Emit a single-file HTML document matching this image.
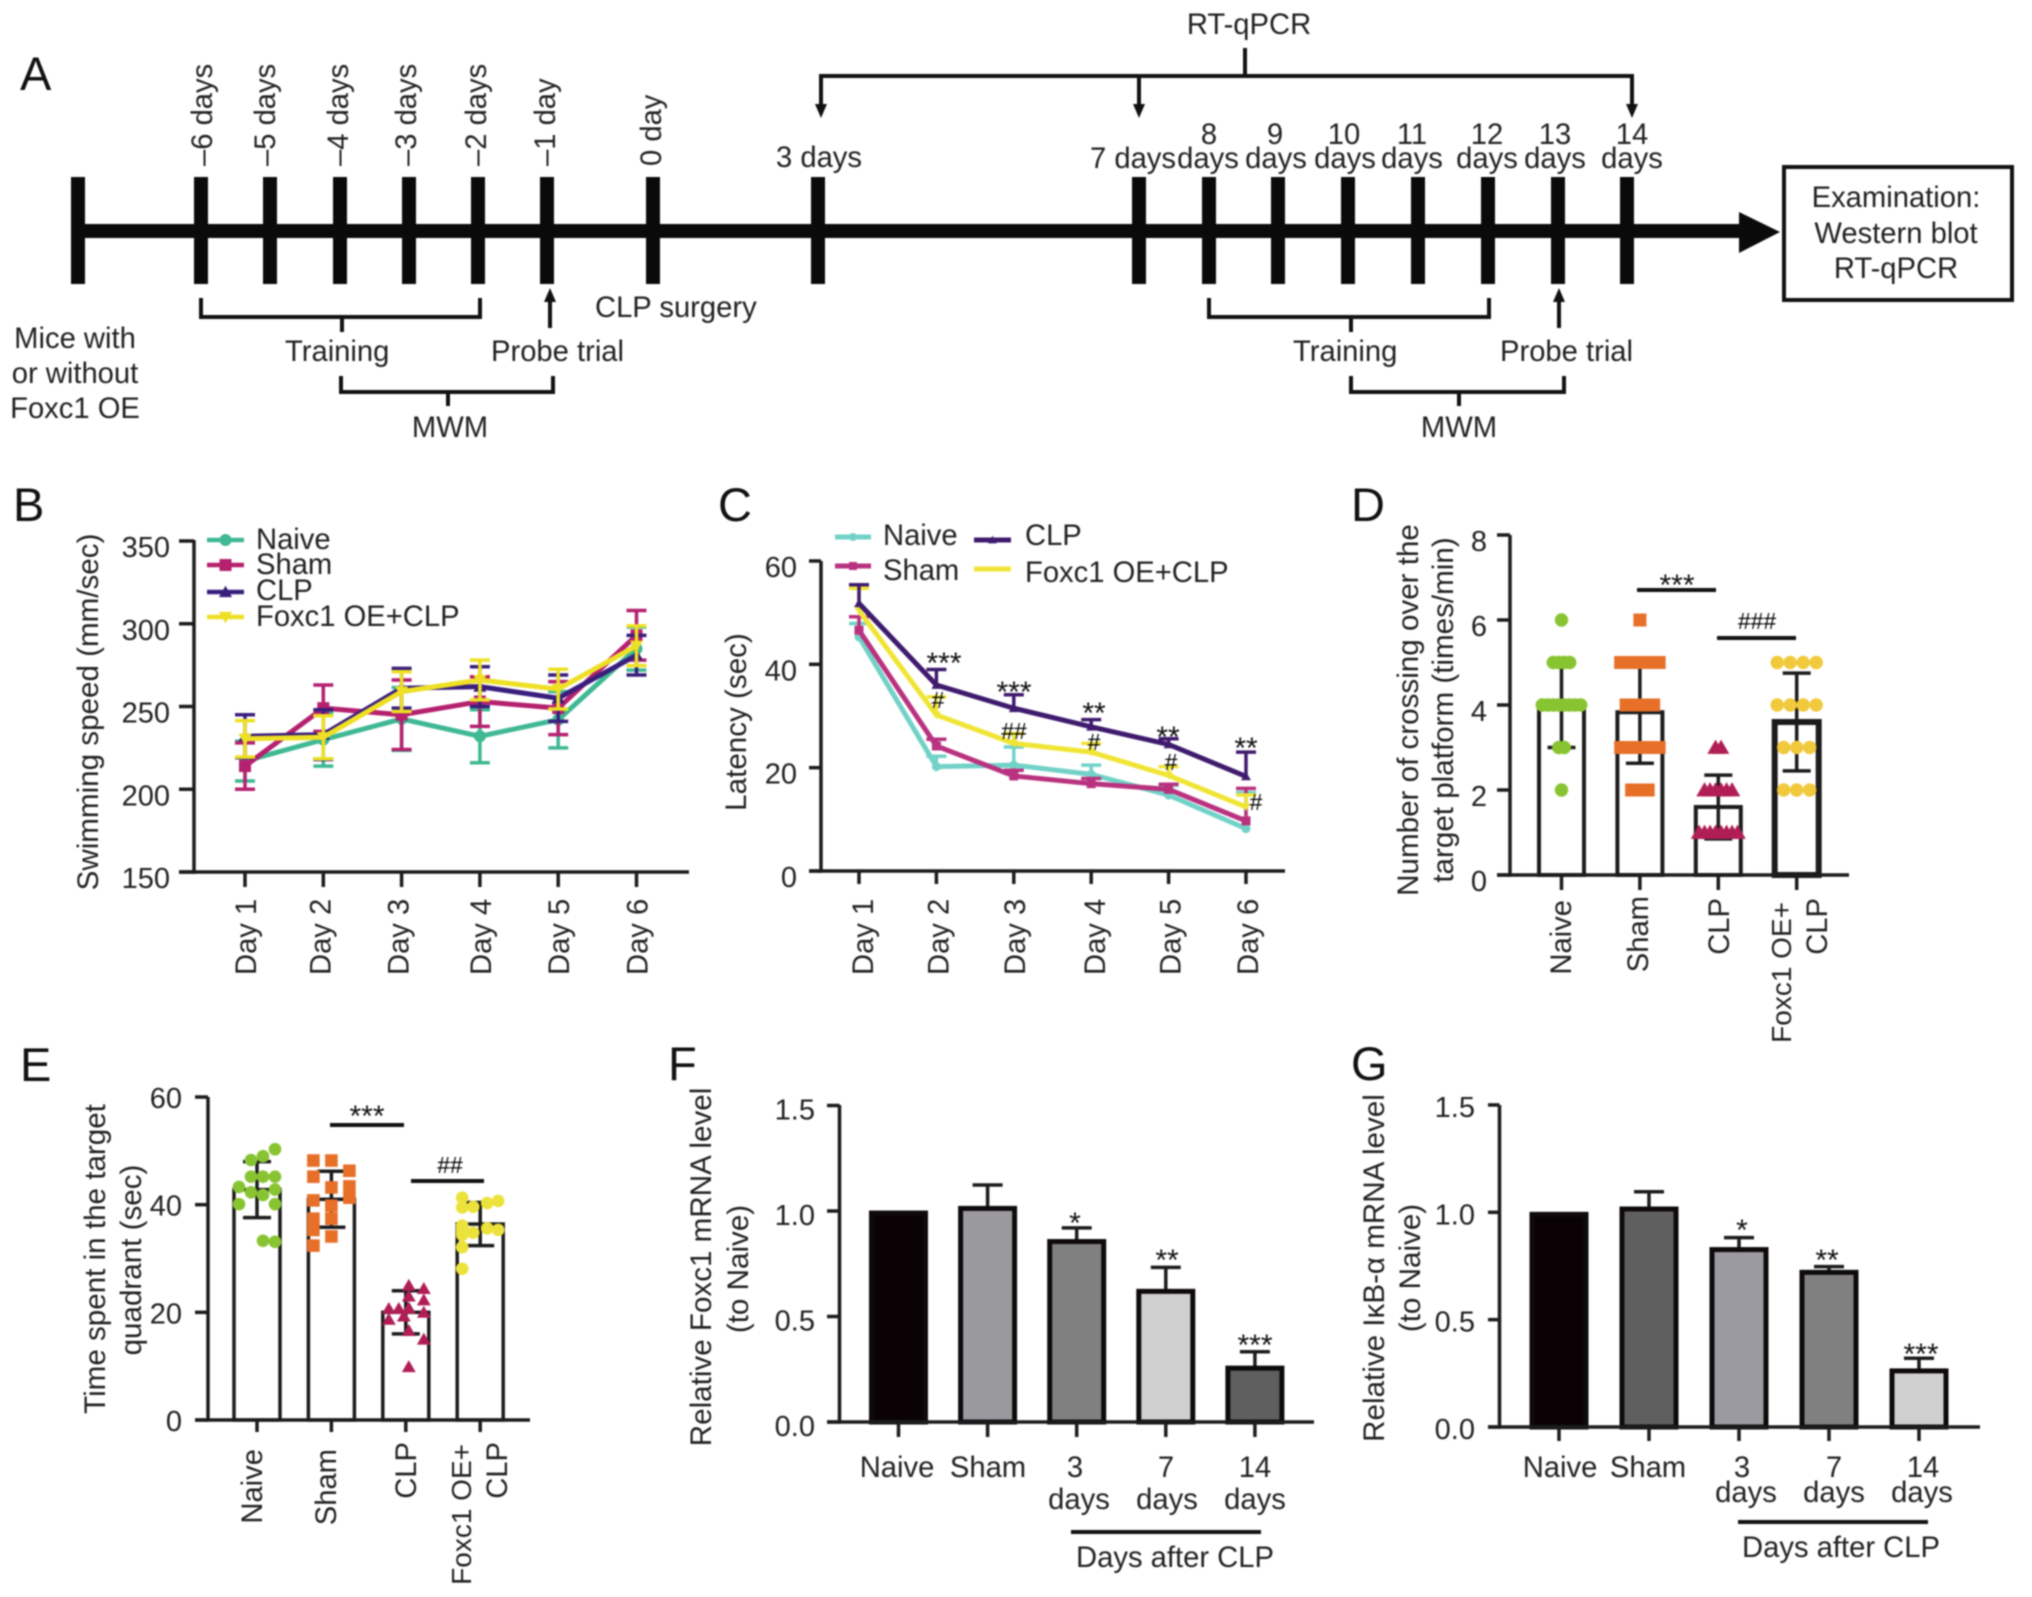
<!DOCTYPE html>
<html lang="en">
<head>
<meta charset="utf-8">
<title>Foxc1 OE and CLP experiment figure</title>
<style>
html,body{margin:0;padding:0;background:#fff;width:2032px;height:1597px;overflow:hidden}
#figure{display:block;filter:blur(0.8px)}
text{font-family:"Liberation Sans","DejaVu Sans",sans-serif;fill:#222;font-size:29.2px}
.letter{font-size:47px;fill:#111}
.title{font-size:29.6px}
.long{font-size:28px}
.mid{text-anchor:middle}
.end{text-anchor:end}
.star{font-size:30px;text-anchor:middle;fill:#111}
.hash{font-size:23px;text-anchor:middle;fill:#000}
.ln{stroke:#111;fill:none;stroke-width:4}
</style>
</head>
<body>
<svg id="figure" xmlns="http://www.w3.org/2000/svg" width="2032" height="1597" viewBox="0 0 2032 1597">
<rect x="0" y="0" width="2032" height="1597" fill="#fff"/>

<!-- Panel A timeline -->
<g id="panel-a">
<text class="letter" x="20" y="90">A</text>
<rect x="78" y="224" width="1665" height="14" fill="#0a0a0a"/>
<polygon points="1739,212 1780,232 1739,253" fill="#0a0a0a"/>
<g fill="#0a0a0a">
<rect x="71" y="177" width="14" height="107"/>
<rect x="194" y="177" width="14" height="107"/>
<rect x="263" y="177" width="14" height="107"/>
<rect x="333" y="177" width="14" height="107"/>
<rect x="402" y="177" width="14" height="107"/>
<rect x="471" y="177" width="14" height="107"/>
<rect x="540" y="177" width="14" height="107"/>
<rect x="646" y="177" width="14" height="107"/>
<rect x="811" y="177" width="14" height="107"/>
<rect x="1132" y="177" width="14" height="107"/>
<rect x="1202" y="177" width="14" height="107"/>
<rect x="1271" y="177" width="14" height="107"/>
<rect x="1341" y="177" width="14" height="107"/>
<rect x="1411" y="177" width="14" height="107"/>
<rect x="1481" y="177" width="14" height="107"/>
<rect x="1551" y="177" width="14" height="107"/>
<rect x="1620" y="177" width="14" height="107"/>
</g>
<text transform="translate(212,166) rotate(-90)">–6 days</text>
<text transform="translate(275,166) rotate(-90)">–5 days</text>
<text transform="translate(348,166) rotate(-90)">–4 days</text>
<text transform="translate(416,166) rotate(-90)">–3 days</text>
<text transform="translate(486,166) rotate(-90)">–2 days</text>
<text transform="translate(555,166) rotate(-90)">–1 day</text>
<text transform="translate(661,166) rotate(-90)">0 day</text>
<text class="mid" x="819" y="167">3 days</text>
<text class="mid" x="1133" y="168">7 days</text>
<text class="mid" x="1209" y="144">8</text>
<text class="mid" x="1208" y="168">days</text>
<text class="mid" x="1275" y="144">9</text>
<text class="mid" x="1276" y="168">days</text>
<text class="mid" x="1344" y="144">10</text>
<text class="mid" x="1345" y="168">days</text>
<text class="mid" x="1412" y="144">11</text>
<text class="mid" x="1412" y="168">days</text>
<text class="mid" x="1487" y="144">12</text>
<text class="mid" x="1487" y="168">days</text>
<text class="mid" x="1555" y="144">13</text>
<text class="mid" x="1555" y="168">days</text>
<text class="mid" x="1632" y="144">14</text>
<text class="mid" x="1632" y="168">days</text>

<text class="mid" x="1249" y="34">RT-qPCR</text>
<path class="ln" d="M1245 48V76M821 108V76H1632V108M1139 76V108"/>
<polygon points="815,104 827,104 821,118" fill="#111"/>
<polygon points="1133,104 1145,104 1139,118" fill="#111"/>
<polygon points="1626,104 1638,104 1632,118" fill="#111"/>

<path class="ln" d="M201 298V317H480V298M342 317V332"/>
<path class="ln" d="M341 376V392H553V376M448 392V406"/>
<path class="ln" d="M550 328V298"/>
<polygon points="544,302 556,302 550,288" fill="#111"/>
<text x="595" y="317">CLP surgery</text>
<text x="285" y="361">Training</text>
<text x="491" y="361">Probe trial</text>
<text class="mid" x="450" y="437">MWM</text>
<text class="mid" x="75" y="348">Mice with</text>
<text class="mid" x="75" y="383">or without</text>
<text class="mid" x="75" y="418">Foxc1 OE</text>

<path class="ln" d="M1209 298V317H1489V298M1351 317V332"/>
<path class="ln" d="M1351 376V392H1564V376M1459 392V406"/>
<path class="ln" d="M1559 328V298"/>
<polygon points="1553,302 1565,302 1559,288" fill="#111"/>
<text x="1293" y="361">Training</text>
<text x="1500" y="361">Probe trial</text>
<text class="mid" x="1459" y="437">MWM</text>

<rect x="1784" y="167" width="228" height="133" fill="#fff" stroke="#111" stroke-width="4"/>
<text class="mid" x="1896" y="207">Examination:</text>
<text class="mid" x="1896" y="243">Western blot</text>
<text class="mid" x="1896" y="278">RT-qPCR</text>
</g>

<g id="charts"></g>

<!-- Panel letters -->
<text class="letter" x="13" y="521">B</text>
<text class="letter" x="718" y="521">C</text>
<text class="letter" x="1351" y="521">D</text>
<text class="letter" x="20" y="1081">E</text>
<text class="letter" x="668" y="1080">F</text>
<text class="letter" x="1351" y="1080">G</text>

<!-- Axis titles -->
<text class="mid title" transform="translate(98,712) rotate(-90)">Swimming speed (mm/sec)</text>
<text class="mid title" transform="translate(746,722) rotate(-90)">Latency (sec)</text>
<text class="mid title" transform="translate(1418,710) rotate(-90)">Number of crossing over the</text>
<text class="mid title" transform="translate(1453,710) rotate(-90)">target platform (times/min)</text>
<text class="mid title" transform="translate(105,1259) rotate(-90)">Time spent in the target</text>
<text class="mid title" transform="translate(141,1260) rotate(-90)">quadrant (sec)</text>
<text class="mid title" transform="translate(711,1267) rotate(-90)">Relative Foxc1 mRNA level</text>
<text class="mid title" transform="translate(748,1269) rotate(-90)">(to Naive)</text>
<text class="mid title" transform="translate(1384,1268) rotate(-90)">Relative IκB-α mRNA level</text>
<text class="mid title" transform="translate(1420,1268) rotate(-90)">(to Naive)</text>

<!-- Legends text -->
<text x="256" y="549">Naive</text>
<text x="256" y="574">Sham</text>
<text x="256" y="600">CLP</text>
<text x="256" y="626">Foxc1 OE+CLP</text>
<text x="883" y="545">Naive</text>
<text x="883" y="580">Sham</text>
<text x="1025" y="545">CLP</text>
<text x="1025" y="582">Foxc1 OE+CLP</text>

<!-- Panel C annotations -->
<text class="star" x="944" y="673">***</text>
<text class="hash" x="938" y="708">#</text>
<text class="star" x="1014" y="702">***</text>
<text class="hash" x="1014" y="739">##</text>
<text class="star" x="1094" y="723">**</text>
<text class="hash" x="1094" y="750">#</text>
<text class="star" x="1168" y="747">**</text>
<text class="hash" x="1171" y="770">#</text>
<text class="star" x="1246" y="758">**</text>
<text class="hash" x="1256" y="810">#</text>

<!-- Panel D annotations and labels -->
<path class="ln" d="M1637 590H1716"/>
<text class="star" x="1677" y="595">***</text>
<path class="ln" d="M1717 638H1796"/>
<text class="hash" x="1757" y="629">###</text>
<text class="end" transform="translate(1571,900) rotate(-90)">Naive</text>
<text class="end" transform="translate(1648,896) rotate(-90)">Sham</text>
<text class="end" transform="translate(1729,898) rotate(-90)">CLP</text>
<text class="end long" transform="translate(1791,902) rotate(-90)">Foxc1 OE+</text>
<text class="end" transform="translate(1827,898) rotate(-90)">CLP</text>

<!-- Panel E annotations and labels -->
<path class="ln" d="M330 1125H404"/>
<text class="star" x="367" y="1126">***</text>
<path class="ln" d="M411 1181H484"/>
<text class="hash" x="450" y="1173">##</text>
<text class="end" transform="translate(262,1449) rotate(-90)">Naive</text>
<text class="end" transform="translate(336,1449) rotate(-90)">Sham</text>
<text class="end" transform="translate(416,1442) rotate(-90)">CLP</text>
<text class="end long" transform="translate(471,1444) rotate(-90)">Foxc1 OE+</text>
<text class="end" transform="translate(507,1442) rotate(-90)">CLP</text>

<!-- Panel F annotations and labels -->
<text class="star" x="1075" y="1233">*</text>
<text class="star" x="1167" y="1270">**</text>
<text class="star" x="1255" y="1355">***</text>
<text class="mid" x="897" y="1477">Naive</text>
<text class="mid" x="988" y="1477">Sham</text>
<text class="mid" x="1075" y="1477">3</text>
<text class="mid" x="1079" y="1509">days</text>
<text class="mid" x="1166" y="1477">7</text>
<text class="mid" x="1167" y="1509">days</text>
<text class="mid" x="1255" y="1477">14</text>
<text class="mid" x="1255" y="1509">days</text>
<path class="ln" d="M1071 1532H1261"/>
<text class="mid" x="1175" y="1567">Days after CLP</text>

<!-- Panel G annotations and labels -->
<text class="star" x="1742" y="1240">*</text>
<text class="star" x="1827" y="1270">**</text>
<text class="star" x="1921" y="1364">***</text>
<text class="mid" x="1560" y="1477">Naive</text>
<text class="mid" x="1648" y="1477">Sham</text>
<text class="mid" x="1742" y="1477">3</text>
<text class="mid" x="1746" y="1502">days</text>
<text class="mid" x="1834" y="1477">7</text>
<text class="mid" x="1834" y="1502">days</text>
<text class="mid" x="1923" y="1477">14</text>
<text class="mid" x="1922" y="1502">days</text>
<path class="ln" d="M1738 1522H1928"/>
<text class="mid" x="1841" y="1557">Days after CLP</text>
</svg>

<script>
// ---- Panel B data: swimming speed ----
const dayLabels = ['Day 1','Day 2','Day 3','Day 4','Day 5','Day 6'];
const bTicks = [150,200,250,300,350];
const bTickLabels = ['150','200','250','300','350'];
const bNaive = [217,230,242.5,232,242,285];
const bNaiveErr = [12,16,19,16,17,13];
const bSham = [214,249,245,253,249,293];
const bShamErr = [14,14,21,15,16,15];
const bClp = [232,233,261,262,255,281];
const bClpErr = [13,15,12,12,14,12];
const bFoxc = [230.5,231.4,259,266,260.5,286.7];
const bFoxcErr = [11,13,12,12,12,12];

// ---- Panel C data: latency ----
const cTicks = [0,20,40,60];
const cTickLabels = ['0','20','40','60'];
const cNaive = [45.3,20.2,20.5,18.7,14.7,8.2];
const cNaiveErr = [2.6,2,3.5,1.8,1.9,7];
const cSham = [46.6,24.2,18.4,16.9,15.8,9.7];
const cShamErr = [2.6,1.3,1.1,1,1,6.3];
const cClp = [51.8,36,31.5,27.9,24.5,18.3];
const cClpErr = [3.6,3,2.6,1.4,1.1,4.7];
const cFoxc = [50.4,30.2,24.7,23,18.5,12.4];
const cFoxcErr = [4.3,3.5,1.9,1.7,1.7,2.3];

// ---- Panel D data: crossings ----
const dTicks = [0,2,4,6,8];
const dTickLabels = ['0','2','4','6','8'];
const dMeans = [4,3.83,1.6,3.6];
const dErrs = [1,1.2,0.75,1.15];
const dNaivePoints = [6,5,5,5,5,4,4,4,4,4,4,4,4,3,3,2];
const dShamPoints = [6,5,5,5,5,5,5,5,5,4,4,4,4,4,4,3,3,3,3,3,3,3,3,2,2,2,2];
const dClpPoints = [3,3,2,2,2,2,2,2,1,1,1,1,1,1,1,1];
const dFoxcPoints = [5,5,5,5,4,4,4,4,3,3,3,2,2,2];

// ---- Panel E data: time in quadrant ----
const eTicks = [0,20,40,60];
const eTickLabels = ['0','20','40','60'];
const eMeans = [42.8,41,20,36.4];
const eErrs = [5.2,5.2,4,4];
const eNaivePoints = [50.3,49,48.3,45.2,45.2,45.2,43.3,42.8,41.8,42.3,40.1,40.1,33.1,33.3];
const eShamPoints = [48.2,48.2,46.3,45.2,43.2,43.4,40.8,41.3,39.8,37.4,37.4,35.3,34.1,32.4];
const eClpPoints = [25,24.4,23,22.3,20.7,20.7,20.7,20.8,20,19.3,18.7,16.6,15,9.9];
const eFoxcPoints = [41.3,40.7,40.3,39.6,39.5,36.1,35.3,35.6,34.8,35.6,35,32.1,28.1,34.4];

// ---- Panel F data: Foxc1 mRNA ----
const barTicks = [0,0.5,1,1.5];
const barTickLabels = ['0.0','0.5','1.0','1.5'];
const fValues = [0.995,1.017,0.86,0.624,0.26];
const fErrTops = [null,1.123,0.92,0.733,0.333];

// ---- Panel G data: IkB-alpha mRNA ----
const gValues = [0.995,1.02,0.831,0.725,0.266];
const gErrTops = [null,1.096,0.882,0.747,0.32];

// ---- Axis functions ----
const xB = i => 245 + i * 78.3;
const yB = v => 872 - (v - 150) * 1.655;
const xC = i => 859 + i * 77.4;
const yC = v => 871 - v * 5.167;
const xD = i => 1561.5 + i * 78.4;
const yD = v => 875 - v * 42.5;
const xE = i => 257 + i * 74.4;
const yE = v => 1420 - v * 5.383;
const xF = i => 898.5 + i * 89.1;
const yF = v => 1422 - v * 211;
const xG = i => 1559 + i * 90;
const yG = v => 1427 - v * 214.7;

const NS = 'http://www.w3.org/2000/svg';
const layer = document.getElementById('charts');
const INK = '#1c1c1c';

function make(parent, tag, attrs, name) {
  const e = document.createElementNS(NS, tag);
  for (const k in attrs) e.setAttribute(k, attrs[k]);
  
  
  parent.appendChild(e);
  return e;
}
function line(parent, x1, y1, x2, y2, color, w, name) {
  return make(parent, 'line', {x1, y1, x2, y2, stroke: color, 'stroke-width': w}, name);
}
function marker(parent, shape, x, y, s, fill, name) {
  if (shape === 'circle') return make(parent, 'circle', {cx: x, cy: y, r: s, fill}, name);
  if (shape === 'square') return make(parent, 'rect', {x: x - s, y: y - s, width: 2 * s, height: 2 * s, fill}, name);
  const dir = shape === 'tri' ? 1 : -1;
  const pts = [x + ',' + (y - dir * s * 1.05), (x - s * 1.1) + ',' + (y + dir * s * 0.85), (x + s * 1.1) + ',' + (y + dir * s * 0.85)].join(' ');
  return make(parent, 'polygon', {points: pts, fill}, name);
}
function yAxis(parent, prefix, o) {
  line(parent, o.axisX, o.top, o.axisX, o.bottom + 1.75, INK, 3.5, prefix + '-y-axis');
  o.ticks.forEach((t, i) => {
    const y = o.y(t);
    line(parent, o.leftX, y, o.axisX, y, INK, 3.5, prefix + '-y-tick');
    const label = make(parent, 'text', {x: o.labelX, y: y + o.labelDy, 'text-anchor': 'end', style: 'font-size:29px'}, prefix + '-y-tick-label');
    label.textContent = o.labels[i];
  });
}
function xAxis(parent, prefix, o) {
  line(parent, o.leftX, o.yPos, o.rightX, o.yPos, INK, 3.5, prefix + '-x-axis');
  for (let i = 0; i < o.count; i++) {
    line(parent, o.x(i), o.yPos, o.x(i), o.tickEnd, INK, 3.5, prefix + '-x-tick');
  }
}
function dayAxisLabels(parent, prefix, xFn, dx, nudge) {
  dayLabels.forEach((d, i) => {
    const label = make(parent, 'text', {transform: 'translate(' + (xFn(i) + dx + nudge[i]) + ',975) rotate(-90)'}, prefix + '-x-tick-label');
    label.textContent = d;
  });
}
function lineSeries(parent, name, vals, errs, xFn, yFn, color, shape, size, both, width) {
  const g = make(parent, 'g', {}, name + '-series');
  vals.forEach((v, i) => {
    const x = xFn(i);
    const hi = yFn(v + errs[i]);
    const lo = both ? yFn(v - errs[i]) : yFn(v);
    line(g, x, hi, x, lo, color, 3.5, name + '-error-bar');
    line(g, x - 10, hi, x + 10, hi, color, 3.5, name + '-error-cap');
    if (both) line(g, x - 10, lo, x + 10, lo, color, 3.5, name + '-error-cap');
  });
  const pts = vals.map((v, i) => xFn(i) + ',' + yFn(v)).join(' ');
  make(g, 'polyline', {points: pts, fill: 'none', stroke: color, 'stroke-width': width, 'stroke-linejoin': 'round'}, name + '-line');
  vals.forEach((v, i) => marker(g, shape, xFn(i), yFn(v), size, color, name + '-point'));
}
function legendSwatch(parent, name, x1, x2, y, color, shape, size, width) {
  line(parent, x1, y, x2, y, color, width, name + '-line');
  marker(parent, shape, (x1 + x2) / 2, y, size, color, name + '-marker');
}
function rowSwarm(values, spacing) {
  const counts = {};
  values.forEach(v => { counts[v] = (counts[v] || 0) + 1; });
  const seen = {};
  return values.map(v => {
    seen[v] = (seen[v] || 0) + 1;
    return (seen[v] - 1 - (counts[v] - 1) / 2) * spacing;
  });
}
function greedySwarm(values, yFn, slots, dist) {
  const placed = [];
  return values.map(v => {
    const y = yFn(v);
    let best = slots[0];
    for (const s of slots) {
      const clash = placed.some(p => Math.hypot(p.x - s, p.y - y) < dist);
      if (!clash) { best = s; break; }
    }
    placed.push({x: best, y});
    return best;
  });
}
function scatterBar(parent, name, i, mean, err, points, offsets, xFn, yFn, o) {
  const g = make(parent, 'g', {}, name + '-group');
  const x = xFn(i);
  make(g, 'rect', {x: x - o.barW / 2, y: yFn(mean), width: o.barW, height: yFn(0) - yFn(mean), fill: 'none', stroke: INK, 'stroke-width': o.stroke}, name + '-bar');
  line(g, x, yFn(mean + err), x, yFn(mean - err), INK, 3.5, name + '-error-bar');
  line(g, x - 14, yFn(mean + err), x + 14, yFn(mean + err), INK, 3.5, name + '-error-cap');
  line(g, x - 14, yFn(mean - err), x + 14, yFn(mean - err), INK, 3.5, name + '-error-cap');
  points.forEach((v, j) => marker(g, o.shape, x + offsets[j], yFn(v), o.size, o.color, name + '-point'));
}
function solidBars(parent, prefix, vals, tops, fills, xFn, yFn) {
  vals.forEach((v, i) => {
    const x = xFn(i);
    if (tops[i] !== null) {
      line(parent, x, yFn(tops[i]), x, yFn(v), INK, 3.5, prefix + '-error-bar');
      line(parent, x - 15, yFn(tops[i]), x + 15, yFn(tops[i]), INK, 3.5, prefix + '-error-cap');
    }
    make(parent, 'rect', {x: x - 27, y: yFn(v) + 1, width: 54, height: yFn(0) - yFn(v) - 1, fill: fills[i], stroke: '#0e0a0c', 'stroke-width': 5}, prefix + '-bar');
  });
}

// ---- Panel B ----
const gB = make(layer, 'g', {}, 'panel-b-swimming-speed-chart');
yAxis(gB, 'panel-b', {axisX: 194, leftX: 179, labelX: 170, labelDy: 16, top: 540, bottom: 872, y: yB, ticks: bTicks, labels: bTickLabels});
xAxis(gB, 'panel-b', {leftX: 179, rightX: 689, yPos: 872, tickEnd: 887, x: xB, count: 6});
dayAxisLabels(gB, 'panel-b', xB, 11, [0,-4,-4,0,0,0]);
lineSeries(gB, 'panel-b-naive', bNaive, bNaiveErr, xB, yB, '#3fb894', 'circle', 6, true, 5);
lineSeries(gB, 'panel-b-sham', bSham, bShamErr, xB, yB, '#b5206f', 'square', 6, true, 5);
lineSeries(gB, 'panel-b-clp', bClp, bClpErr, xB, yB, '#3a1e7d', 'tri', 6, true, 5);
lineSeries(gB, 'panel-b-foxc1', bFoxc, bFoxcErr, xB, yB, '#eee024', 'tridown', 6, true, 5);
legendSwatch(gB, 'panel-b-legend-naive', 207, 244, 540, '#3fb894', 'circle', 6, 4.5);
legendSwatch(gB, 'panel-b-legend-sham', 207, 244, 565, '#b5206f', 'square', 6, 4.5);
legendSwatch(gB, 'panel-b-legend-clp', 207, 244, 592, '#3a1e7d', 'tri', 6, 4.5);
legendSwatch(gB, 'panel-b-legend-foxc1', 207, 244, 617, '#eee024', 'tridown', 6, 4.5);

// ---- Panel C ----
const gC = make(layer, 'g', {}, 'panel-c-latency-chart');
yAxis(gC, 'panel-c', {axisX: 821, leftX: 809, labelX: 797, labelDy: 16, top: 561, bottom: 871, y: yC, ticks: cTicks, labels: cTickLabels});
xAxis(gC, 'panel-c', {leftX: 809, rightX: 1285, yPos: 871, tickEnd: 884, x: xC, count: 6});
dayAxisLabels(gC, 'panel-c', xC, 13, [1,-1,-2,1,-1,-1]);
lineSeries(gC, 'panel-c-naive', cNaive, cNaiveErr, xC, yC, '#72d2c8', 'circle', 4.5, false, 5);
lineSeries(gC, 'panel-c-sham', cSham, cShamErr, xC, yC, '#b9327f', 'square', 4.5, false, 5);
lineSeries(gC, 'panel-c-foxc1', cFoxc, cFoxcErr, xC, yC, '#f0e535', 'tridown', 4, false, 5);
lineSeries(gC, 'panel-c-clp', cClp, cClpErr, xC, yC, '#3f1b6e', 'tri', 4.5, false, 5);
legendSwatch(gC, 'panel-c-legend-naive', 835, 871, 537, '#72d2c8', 'circle', 4, 5);
legendSwatch(gC, 'panel-c-legend-sham', 835, 871, 566, '#b9327f', 'square', 4, 5);
legendSwatch(gC, 'panel-c-legend-clp', 974, 1011, 540, '#3f1b6e', 'tri', 4, 5);
legendSwatch(gC, 'panel-c-legend-foxc1', 974, 1011, 569, '#f0e535', 'tridown', 3, 5);

// ---- Panel D ----
const gD = make(layer, 'g', {}, 'panel-d-crossings-chart');
yAxis(gD, 'panel-d', {axisX: 1510, leftX: 1497, labelX: 1487, labelDy: 16, top: 535, bottom: 875, y: yD, ticks: dTicks, labels: dTickLabels});
scatterBar(gD, 'panel-d-naive', 0, dMeans[0], dErrs[0], dNaivePoints, rowSwarm(dNaivePoints, 5.5), xD, yD, {barW: 45, stroke: 4, shape: 'circle', size: 6.7, color: '#88c431'});
scatterBar(gD, 'panel-d-sham', 1, dMeans[1], dErrs[1], dShamPoints, rowSwarm(dShamPoints, 5.5), xD, yD, {barW: 45, stroke: 4, shape: 'square', size: 6.5, color: '#e76f28'});
scatterBar(gD, 'panel-d-clp', 2, dMeans[2], dErrs[2], dClpPoints, rowSwarm(dClpPoints, 5.5), xD, yD, {barW: 45, stroke: 4, shape: 'tri', size: 7.5, color: '#b01e55'});
scatterBar(gD, 'panel-d-foxc1', 3, dMeans[3], dErrs[3], dFoxcPoints, rowSwarm(dFoxcPoints, 13), xD, yD, {barW: 44, stroke: 6, shape: 'circle', size: 6.7, color: '#f1c93c'});
xAxis(gD, 'panel-d', {leftX: 1497, rightX: 1849, yPos: 875, tickEnd: 890, x: xD, count: 4});

// ---- Panel E ----
const gE = make(layer, 'g', {}, 'panel-e-quadrant-time-chart');
yAxis(gE, 'panel-e', {axisX: 208, leftX: 195, labelX: 182, labelDy: 11, top: 1097, bottom: 1420, y: yE, ticks: eTicks, labels: eTickLabels});
const eOpts = {barW: 46, stroke: 3.5, size: 6.3};
scatterBar(gE, 'panel-e-naive', 0, eMeans[0], eErrs[0], eNaivePoints, greedySwarm(eNaivePoints, yE, [18,6,-6,-18], 12), xE, yE, Object.assign({shape: 'circle', color: '#88c431'}, eOpts));
scatterBar(gE, 'panel-e-sham', 1, eMeans[1], eErrs[1], eShamPoints, greedySwarm(eShamPoints, yE, [-18,0,18], 11), xE, yE, Object.assign({shape: 'square', color: '#e76f28'}, eOpts));
scatterBar(gE, 'panel-e-clp', 2, eMeans[2], eErrs[2], eClpPoints, greedySwarm(eClpPoints, yE, [3,18,-7,-17,10,-2], 9), xE, yE, Object.assign({shape: 'tri', color: '#b01e55'}, eOpts));
scatterBar(gE, 'panel-e-foxc1', 3, eMeans[3], eErrs[3], eFoxcPoints, greedySwarm(eFoxcPoints, yE, [-18,18,7,-7,0], 10), xE, yE, Object.assign({shape: 'circle', color: '#ece23c'}, eOpts));
xAxis(gE, 'panel-e', {leftX: 195, rightX: 530, yPos: 1420, tickEnd: 1432, x: xE, count: 4});

// ---- Panel F ----
const gF = make(layer, 'g', {}, 'panel-f-foxc1-mrna-chart');
yAxis(gF, 'panel-f', {axisX: 839.5, leftX: 827, labelX: 815, labelDy: 14, top: 1105, bottom: 1422, y: yF, ticks: barTicks, labels: barTickLabels});
solidBars(gF, 'panel-f', fValues, fErrTops, ['#0a0205','#9a9a9e','#808080','#cfcfcf','#5f5f5f'], xF, yF);
xAxis(gF, 'panel-f', {leftX: 827, rightX: 1314, yPos: 1422, tickEnd: 1437, x: xF, count: 5});

// ---- Panel G ----
const gG = make(layer, 'g', {}, 'panel-g-ikb-alpha-mrna-chart');
yAxis(gG, 'panel-g', {axisX: 1499.5, leftX: 1488, labelX: 1475, labelDy: 12, top: 1105, bottom: 1427, y: yG, ticks: barTicks, labels: barTickLabels});
solidBars(gG, 'panel-g', gValues, gErrTops, ['#0a0205','#5f5f5f','#9a9aa0','#808080','#cfcfcf'], xG, yG);
xAxis(gG, 'panel-g', {leftX: 1488, rightX: 1980, yPos: 1427, tickEnd: 1441, x: xG, count: 5});
</script>
</body>
</html>
